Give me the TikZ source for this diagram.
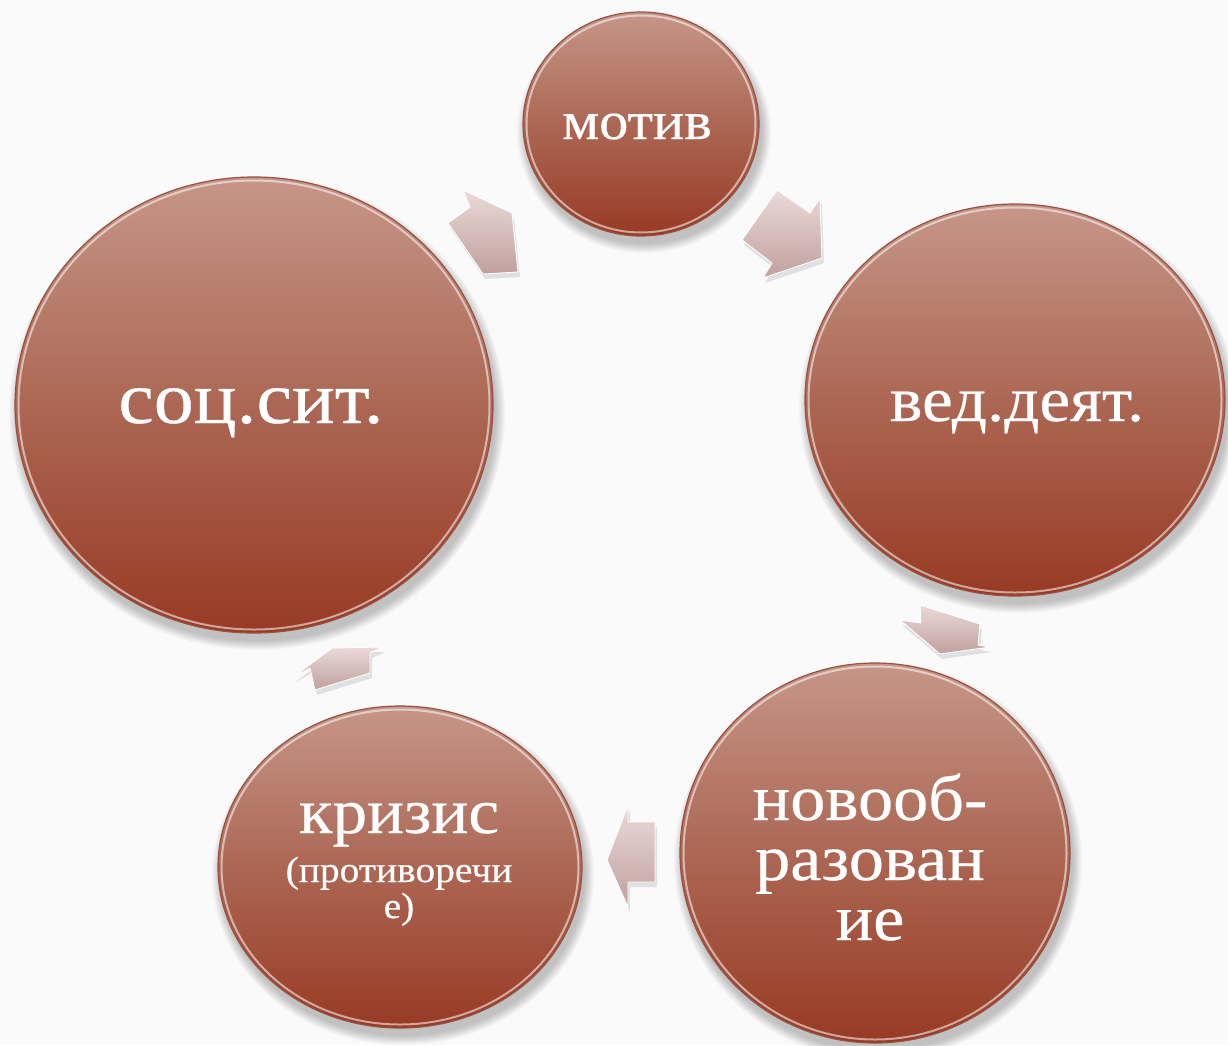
\documentclass[tikz,border=0pt]{standalone}
\usepackage{fontspec}
\setmainfont{Liberation Serif}[FakeStretch=1.08, FakeBold=0.4]
\usetikzlibrary{shapes.geometric}
\definecolor{bgc}{RGB}{250,250,250}
\definecolor{cTop}{RGB}{198,150,136}
\definecolor{cMid}{RGB}{172,103,84}
\definecolor{cBot}{RGB}{152,58,36}
\definecolor{cEdge}{RGB}{150,82,66}
\definecolor{aTop}{RGB}{234,218,216}
\definecolor{aBot}{RGB}{192,160,158}
\begin{document}
\begin{tikzpicture}[x=1pt,y=-1pt,
  disc/.style={ellipse, inner sep=0pt, top color=cTop, bottom color=cBot, middle color=cMid, draw=cEdge, line width=1.2pt},
  lbl/.style={text=white, inner sep=0pt, anchor=base},
  blockarrow/.style={top color=aTop, bottom color=aBot, draw=white, line width=0.9pt, line join=round},
  arrowshadow/.style={fill=black, opacity=0.10, line join=round},
]
\fill[bgc] (0,0) rectangle (1228,1045);
\useasboundingbox (0,0) rectangle (1228,1045);

% discs
\foreach \n/\cx/\cy/\rx/\ry in {motiv/641/124/118/112, socsit/254/405/239/228, veddeyat/1015/400/210/196, novoob/875/853/195/190, krizis/400/867/182/161}{
  \foreach \k in {0,...,9}{
    \fill[black, opacity=0.022] (\cx+3,\cy+8) ellipse [x radius=\rx+\k, y radius=\ry+\k];
  }
  \node[disc, minimum width={2*\rx}, minimum height={2*\ry}] (\n) at (\cx,\cy) {};
  \draw[white, opacity=0.55, line width=2pt] (\n.center) ellipse [x radius=\rx-3.5, y radius=\ry-3.5];
}

% block arrows (shadows)
\fill[arrowshadow, shift={(2,5)}] (448,223) -- (470,207) -- (463,190) -- (512,213) -- (518,272) -- (483,274) -- cycle;
\fill[arrowshadow, shift={(2,5)}] (742,240) -- (777,190) -- (810,213) -- (820,198) -- (822,258) -- (763,278) -- (772,263) -- cycle;
\fill[arrowshadow, shift={(2,5)}] (920,605) -- (980,624) -- (978,645) -- (990,647) -- (940,654) -- (900,620) -- (921,623) -- cycle;
\fill[arrowshadow, shift={(2,5)}] (607,860) -- (628,805) -- (628,822) -- (655,822) -- (655,882) -- (628,882) -- (628,907) -- cycle;
\fill[arrowshadow, shift={(2,5)}] (292,678) -- (332,648) -- (383,647) -- (370,653) -- (370,673) -- (315,690) -- (310,668) -- cycle;

% block arrows
\path[blockarrow] (448,223) -- (470,207) -- (463,190) -- (512,213) -- (518,272) -- (483,274) -- cycle;
\path[blockarrow] (742,240) -- (777,190) -- (810,213) -- (820,198) -- (822,258) -- (763,278) -- (772,263) -- cycle;
\path[blockarrow] (920,605) -- (980,624) -- (978,645) -- (990,647) -- (940,654) -- (900,620) -- (921,623) -- cycle;
\path[blockarrow] (607,860) -- (628,805) -- (628,822) -- (655,822) -- (655,882) -- (628,882) -- (628,907) -- cycle;
\path[blockarrow] (292,678) -- (332,648) -- (383,647) -- (370,653) -- (370,673) -- (315,690) -- (310,668) -- cycle;

% labels
\node[lbl, font=\fontsize{54}{60}\selectfont] (tmotiv) at (637,139) {мотив};
\node[lbl, font=\fontsize{74}{80}\selectfont] (tsoc) at (251,423) {соц.сит.};
\node[lbl, font=\fontsize{64}{70}\selectfont] (tved) at (1017,421) {вед.деят.};
\node[lbl, font=\fontsize{65}{60}\selectfont] (tnov1) at (870,820) {новооб-};
\node[lbl, font=\fontsize{65}{60}\selectfont] (tnov2) at (870,880) {разован};
\node[lbl, font=\fontsize{65}{60}\selectfont] (tnov3) at (870,940) {ие};
\node[lbl, font=\fontsize{64}{70}\selectfont] (tkr1) at (399,833) {кризис};
\node[lbl, font=\fontsize{36.5}{40}\selectfont] (tkr2) at (399,882) {(противоречи};
\node[lbl, font=\fontsize{36.5}{40}\selectfont] (tkr3) at (399,918) {е)};
\end{tikzpicture}
\end{document}
